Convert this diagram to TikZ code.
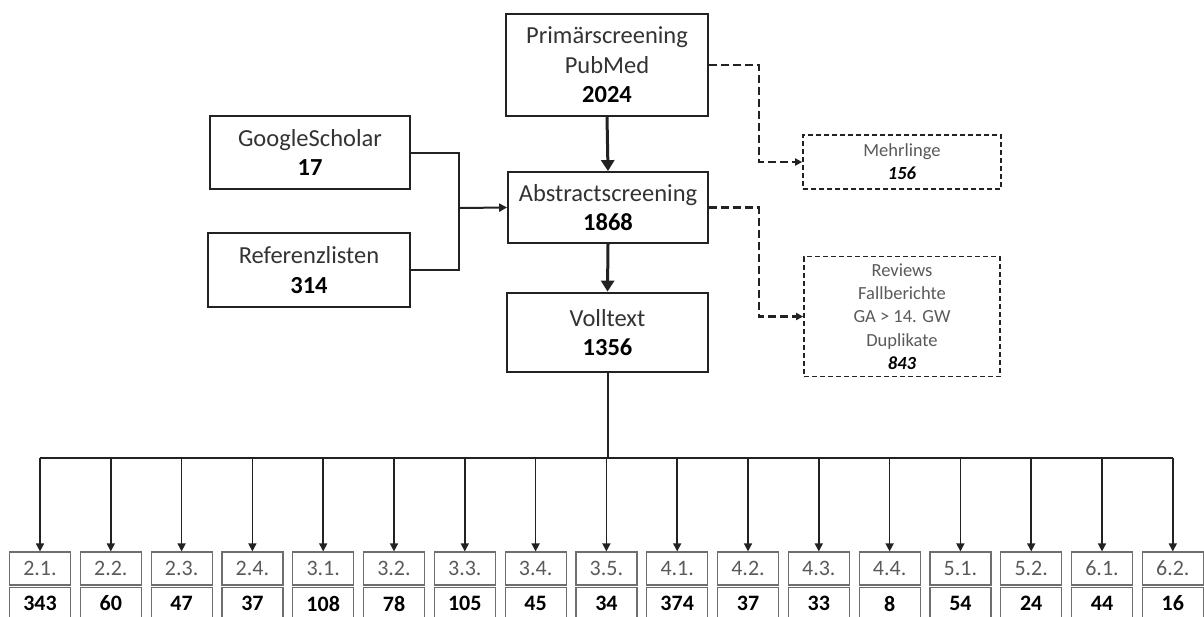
\documentclass[tikz,border=0pt]{standalone}
\usepackage{fontspec}
\setmainfont{Carlito}
\usetikzlibrary{arrows.meta}
\definecolor{txt}{HTML}{333333}
\definecolor{lite}{HTML}{5A5A5A}
\definecolor{bord}{HTML}{222222}
\definecolor{gbord}{HTML}{6E6E6E}
\begin{document}
\begin{tikzpicture}[x=1pt,y=-1pt,
  mainbox/.style={draw=bord, line width=1.8pt, fill=white, align=center, inner sep=0pt,
    font=\fontsize{24.5}{29.5}\selectfont, text=txt},
  sidebox/.style={draw=bord, line width=1.7pt, dash pattern=on 5pt off 3pt, fill=white,
    align=center, inner sep=0pt, font=\fontsize{18.5}{23.2}\selectfont, text=lite},
  conn/.style={draw=bord, line width=2pt},
  bigarrow/.style={draw=bord, line width=3pt, -{Triangle[length=11pt,width=13pt]}},
  smallarrow/.style={draw=bord, line width=1.5pt, -{Triangle[length=8pt,width=8pt]}},
  dconn/.style={draw=bord, line width=2.4pt, dash pattern=on 8pt off 4pt, -{Triangle[length=7pt,width=7pt]}},
  labcell/.style={draw=gbord, line width=1.2pt, minimum width=61pt, minimum height=33pt,
    inner sep=0pt, font=\fontsize{22}{22}\selectfont, text=lite},
  numcell/.style={draw=gbord, line width=1.2pt, minimum width=61pt, minimum height=32pt,
    inner sep=0pt, font=\fontsize{22}{22}\selectfont\bfseries, text=black}
]
\useasboundingbox (0,0) rectangle (1204,616);

\node[mainbox, minimum width=202pt, minimum height=102pt] (prim) at (607,65)
  {Primärscreening\\PubMed\\\textbf{\color{black}2024}};
\node[mainbox, minimum width=200pt, minimum height=71pt] (abs) at (608,207.5)
  {Abstractscreening\\\textbf{\color{black}1868}};
\node[mainbox, line width=2.8pt, minimum width=201pt, minimum height=79pt] (voll) at (607.5,332.5)
  {Volltext\\\textbf{\color{black}1356}};
\node[mainbox, minimum width=200pt, minimum height=73pt] (gs) at (310,152.5)
  {GoogleScholar\\\textbf{\color{black}17}};
\node[mainbox, minimum width=202pt, minimum height=74pt] (rl) at (309,270)
  {Referenzlisten\\\textbf{\color{black}314}};
\node[sidebox, minimum width=198pt, minimum height=54pt] (mehr) at (902,162)
  {Mehrlinge\\\textbf{\textit{\color{black}156}}};
\node[sidebox, minimum width=196pt, minimum height=120pt] (rev) at (902,316.5)
  {Reviews\\Fallberichte\\GA > 14. GW\\Duplikate\\\textbf{\textit{\color{black}843}}};

% arrows in main chain
\draw[bigarrow] (prim.south) -- (abs.north);
\draw[bigarrow] (abs.south) -- (voll.north);

% merging connector
\coordinate (j) at (459,208);
\draw[conn] (gs.east) -| (j);
\draw[conn] (rl.east) -| (j);
\draw[conn, -{Triangle[length=8pt,width=8pt]}] (j) -- (abs.west);

% dashed connectors
\draw[dconn] (prim.east) -- ++(50,0) |- (mehr.west);
\draw[dconn] (abs.east) -- ++(50,0) |- (rev.west);

% distribution bus
\coordinate (hb) at (607.5,458);
\coordinate (hl) at (40,458);
\coordinate (hr) at (1173,458);
\draw[conn] (voll.south) -- (hb);
\draw[conn, line width=1.6pt] (hl) -- (hr);

\foreach \l/\n [count=\i from 0] in {2.1./343,2.2./60,2.3./47,2.4./37,3.1./108,3.2./78,3.3./105,3.4./45,3.5./34,4.1./374,4.2./37,4.3./33,4.4./8,5.1./54,5.2./24,6.1./44,6.2./16}{
  \pgfmathsetmacro{\xx}{40+\i*70.8}
  \node[labcell] (lab\i) at (\xx,568.5) {\l};
  \node[numcell] (num\i) at (\xx,603.5) {\n};
  \coordinate (top\i) at (\xx,458);
  \draw[smallarrow] (top\i) -- (lab\i.north);
}
\end{tikzpicture}
\end{document}
